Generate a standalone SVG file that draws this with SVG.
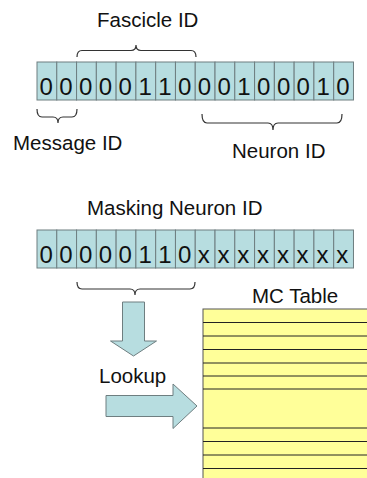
<svg xmlns="http://www.w3.org/2000/svg" width="367" height="478" viewBox="0 0 367 478">
<style>
text{font-family:"Liberation Sans",Arial,sans-serif;fill:#111}
.lbl{font-size:20.5px}
.bit{font-size:24px}
.cell{fill:#b7dde0;stroke:#6e7e80;stroke-width:1}
.brace{fill:none;stroke:#333;stroke-width:1.2}
.arrow{fill:#b7dde0;stroke:#6e7e80;stroke-width:1}
.tl{stroke:#222;stroke-width:1}
</style>
<defs>
<rect id="c" class="cell" width="19.78" height="38"/>
</defs>
<rect width="367" height="478" fill="#fff"/>

<g id="fascicle-label"><text class="lbl" x="97" y="27">Fascicle ID</text></g>

<g id="packet">
<use href="#c" x="37" y="62"/><use href="#c" x="56.78" y="62"/><use href="#c" x="76.56" y="62"/><use href="#c" x="96.34" y="62"/>
<use href="#c" x="116.12" y="62"/><use href="#c" x="135.9" y="62"/><use href="#c" x="155.68" y="62"/><use href="#c" x="175.46" y="62"/>
<use href="#c" x="195.24" y="62"/><use href="#c" x="215.02" y="62"/><use href="#c" x="234.8" y="62"/><use href="#c" x="254.58" y="62"/>
<use href="#c" x="274.36" y="62"/><use href="#c" x="294.14" y="62"/><use href="#c" x="313.92" y="62"/><use href="#c" x="333.7" y="62"/>
<text class="bit" y="94.5"><tspan x="39.5">0</tspan><tspan x="59.3">0</tspan><tspan x="79.1">0</tspan><tspan x="98.8">0</tspan><tspan x="118.6">0</tspan><tspan x="138.4">1</tspan><tspan x="158.2">1</tspan><tspan x="178">0</tspan><tspan x="197.7">0</tspan><tspan x="217.5">0</tspan><tspan x="237.3">1</tspan><tspan x="257.1">0</tspan><tspan x="276.9">0</tspan><tspan x="296.6">0</tspan><tspan x="316.4">1</tspan><tspan x="336.2">0</tspan></text>
</g>

<g id="message-label"><text class="lbl" x="13" y="150">Message ID</text></g>
<g id="neuron-label"><text class="lbl" x="232" y="158">Neuron ID</text></g>
<g id="masking-label"><text class="lbl" x="87" y="215">Masking Neuron ID</text></g>

<g id="mask">
<use href="#c" x="37" y="230"/><use href="#c" x="56.78" y="230"/><use href="#c" x="76.56" y="230"/><use href="#c" x="96.34" y="230"/>
<use href="#c" x="116.12" y="230"/><use href="#c" x="135.9" y="230"/><use href="#c" x="155.68" y="230"/><use href="#c" x="175.46" y="230"/>
<use href="#c" x="195.24" y="230"/><use href="#c" x="215.02" y="230"/><use href="#c" x="234.8" y="230"/><use href="#c" x="254.58" y="230"/>
<use href="#c" x="274.36" y="230"/><use href="#c" x="294.14" y="230"/><use href="#c" x="313.92" y="230"/><use href="#c" x="333.7" y="230"/>
<text class="bit" y="263"><tspan x="39.5">0</tspan><tspan x="59.3">0</tspan><tspan x="79.1">0</tspan><tspan x="98.8">0</tspan><tspan x="118.6">0</tspan><tspan x="138.4">1</tspan><tspan x="158.2">1</tspan><tspan x="178">0</tspan><tspan x="197.7">x</tspan><tspan x="217.5">x</tspan><tspan x="237.3">x</tspan><tspan x="257.1">x</tspan><tspan x="276.9">x</tspan><tspan x="296.6">x</tspan><tspan x="316.4">x</tspan><tspan x="336.2">x</tspan></text>
</g>

<g id="mc-table">
<rect x="203" y="309" width="170" height="175" fill="#ffff99" stroke="#555" stroke-width="1"/>
<path class="tl" d="M203 322.5H367M203 336H367M203 349.5H367M203 363H367M203 376H367M203 389H367M203 428H367M203 441.5H367M203 455H367M203 468.5H367"/>
<text class="lbl" x="252" y="303">MC Table</text>
</g>

<g id="lookup-label"><text class="lbl" x="99" y="383">Lookup</text></g>

<g id="connectors">
<path class="brace" d="M77 57Q77 50.5 82 50.5L131 50.5Q136 50.5 136 45Q136 50.5 141 50.5L191 50.5Q196 50.5 196 57"/>
<path class="brace" d="M37 109Q37 117 42 117L53 117Q58 117 58 123Q58 117 63 117L72 117Q77 117 77 109"/>
<path class="brace" d="M202 114Q202 123 207 123L268 123Q273 123 273 130Q273 123 278 123L337 123Q342 123 342 114"/>
<path class="brace" d="M77 282Q77 289 82 289L130 289Q135 289 135 295Q135 289 140 289L190 289Q195 289 195 282"/>
<path id="down-arrow" class="arrow" d="M122.5 302H144.5V341H156.5L133.5 356L110.5 341H122.5Z"/>
<path id="right-arrow" class="arrow" d="M106 395.5H173V384L197 406L173 428.5V416.5H106Z"/>
</g>
</svg>
